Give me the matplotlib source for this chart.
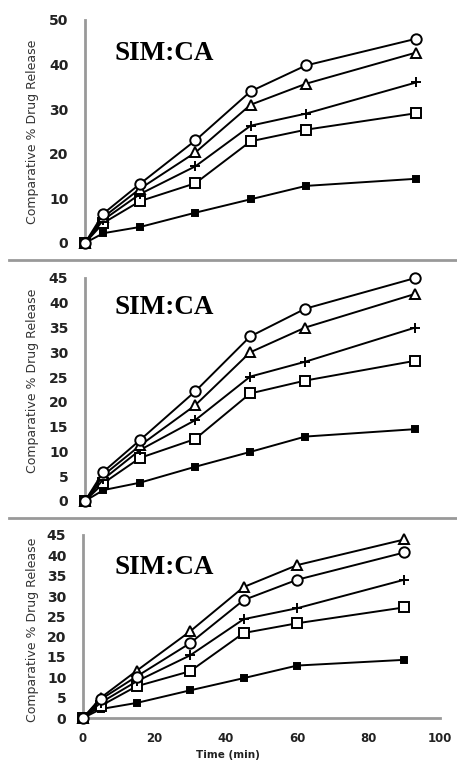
import matplotlib
matplotlib.use('Agg')
import matplotlib.pyplot as plt
from matplotlib.lines import Line2D

# sampling times (min)
times = [0, 5, 15, 30, 45, 60, 90]

# panel 1 (top)
circle_1 = [0, 6.6, 13.3, 23.0, 34.0, 39.8, 45.8]
triangle_1 = [0, 5.8, 12.2, 20.3, 31.0, 35.7, 42.7]
plus_1 = [0, 5.2, 11.0, 17.2, 26.3, 29.0, 36.0]
square_1 = [0, 4.5, 9.4, 13.4, 22.8, 25.4, 29.1]
filled_1 = [0, 2.2, 3.6, 6.8, 9.8, 12.8, 14.4]

# panel 2 (middle)
circle_2 = [0, 5.9, 12.3, 22.1, 33.2, 38.8, 45.0]
triangle_2 = [0, 5.2, 11.2, 19.3, 30.0, 35.0, 41.8]
plus_2 = [0, 4.4, 10.3, 16.3, 25.1, 28.1, 35.0]
square_2 = [0, 3.6, 8.7, 12.5, 21.7, 24.3, 28.3]
filled_2 = [0, 2.2, 3.7, 6.9, 9.9, 13.0, 14.5]

# panel 3 (bottom)
circle_3 = [0, 4.6, 10.2, 18.4, 29.0, 34.0, 40.7]
triangle_3 = [0, 5.0, 11.6, 21.3, 32.2, 37.6, 43.9]
plus_3 = [0, 3.8, 9.0, 15.4, 24.3, 27.0, 34.0]
square_3 = [0, 3.0, 7.8, 11.5, 20.9, 23.3, 27.2]
filled_3 = [0, 2.2, 3.7, 6.8, 9.8, 12.9, 14.3]

y_ticks_1 = [0, 10, 20, 30, 40, 50]
y_ticks_23 = [0, 5, 10, 15, 20, 25, 30, 35, 40, 45]
x_ticks = [0, 20, 40, 60, 80, 100]

W, H = 457, 767
fig = plt.figure(figsize=(W / 100, H / 100), dpi=100)


def px_axes(left, top, right, bottom):
    return fig.add_axes([left / W, 1 - bottom / H, (right - left) / W, (bottom - top) / H])


def draw_panel(ax, series, ylim, yticks, label_y, title_y, show_x=False):
    circ, tri, plus, sq, filled = series
    kw = dict(color='black', lw=1.4, mec='black', mew=1.4, clip_on=False)
    ax.plot(times, filled, marker='s', ms=5, mfc='black', zorder=3, **kw)
    ax.plot(times, sq, marker='s', ms=7, mfc='white', zorder=4, **kw)
    ax.plot(times, plus, marker='+', ms=7, zorder=5, **kw)
    ax.plot(times, tri, marker='^', ms=7.5, mfc='white', zorder=6, **kw)
    ax.plot(times, circ, marker='o', ms=7.5, mfc='white', zorder=7, **kw)

    ax.set_xlim(0, 100)
    ax.set_ylim(*ylim)
    ax.set_yticks(yticks)
    for s in ['top', 'right']:
        ax.spines[s].set_visible(False)
    ax.spines['left'].set_color('#999999')
    ax.spines['left'].set_linewidth(2)
    if show_x:
        ax.spines['bottom'].set_color('#999999')
        ax.spines['bottom'].set_linewidth(2)
        ax.set_xticks(x_ticks)
        ax.tick_params(axis='x', length=0, pad=10)
        for t in ax.get_xticklabels():
            t.set_fontweight('bold')
            t.set_fontsize(8.5)
            t.set_color('#222222')
    else:
        ax.spines['bottom'].set_visible(False)
        ax.set_xticks([])
    ax.tick_params(axis='y', length=0, pad=12)
    for t in ax.get_yticklabels():
        t.set_fontweight('bold')
        t.set_fontsize(10)
        t.set_color('#222222')

    fig.text(33 / W, 1 - label_y / H, 'Comparative % Drug Release', rotation=90,
             ha='center', va='center', fontsize=9, color='#333333')
    fig.text(115 / W, 1 - title_y / H, 'SIM:CA', family='Liberation Serif',
             fontweight='bold', fontsize=19.5, ha='left', va='center')


ax1 = px_axes(85, 20, 453, 243)
draw_panel(ax1, [circle_1, triangle_1, plus_1, square_1, filled_1], (0, 50), y_ticks_1, 132, 54)

ax2 = px_axes(85, 278, 452, 501)
draw_panel(ax2, [circle_2, triangle_2, plus_2, square_2, filled_2], (0, 45), y_ticks_23, 381, 308)

ax3 = px_axes(83, 535, 440, 718)
draw_panel(ax3, [circle_3, triangle_3, plus_3, square_3, filled_3], (0, 45), y_ticks_23, 630, 568, show_x=True)

fig.text(228 / W, 1 - 755 / H, 'Time (min)', ha='center', va='center',
         fontsize=7.5, fontweight='bold', color='#222222')

# separators between the three stacked panels
for yy in [260, 518]:
    fig.add_artist(Line2D([9 / W, 1], [1 - yy / H, 1 - yy / H], transform=fig.transFigure,
                          color='#999999', lw=2))

fig.savefig('out.png', dpi=100)
